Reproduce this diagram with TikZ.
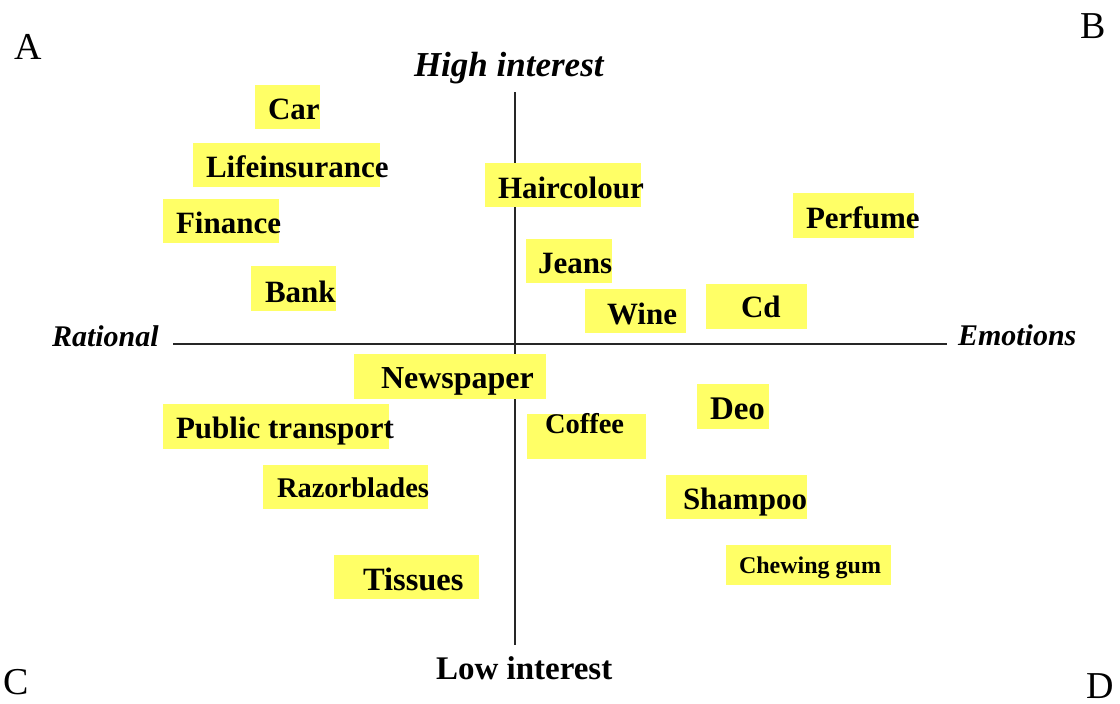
\documentclass[tikz,border=0pt]{standalone}
\usepackage{fontspec}
\setmainfont{Liberation Serif}
\definecolor{boxyellow}{RGB}{255,255,102}
\newcommand\fsz[1]{\fontsize{#1}{#1}\selectfont}
\tikzset{
  ybox/.style n args={2}{fill=boxyellow, draw=none, inner sep=0pt, outer sep=0pt, anchor=north west, minimum width=#1, minimum height=#2},
  lbl/.style={inner sep=0pt, outer sep=0pt, anchor=base west, font=\fsz{31}\bfseries},
  axislbl/.style={inner sep=0pt, outer sep=0pt, anchor=base west, font=\fsz{30}\bfseries\itshape},
  corner/.style={inner sep=0pt, outer sep=0pt, anchor=base west, font=\fsz{38}},
  axisline/.style={draw=black!85, line width=1.3pt}
}
\begin{document}
\begin{tikzpicture}[x=1pt, y=-1pt]
\useasboundingbox (0,0) rectangle (1120,704);
% axes
\coordinate (top) at (515,92);
\coordinate (bot) at (515,645);
\coordinate (left) at (173,344);
\coordinate (right) at (947,344);
\draw[axisline] (top) -- (bot);
\draw[axisline] (left) -- (right);
% yellow boxes
\node[ybox={65pt}{44pt}] (bcar) at (255,85) {};
\node[ybox={187pt}{44pt}] (blife) at (193,143) {};
\node[ybox={116pt}{44pt}] (bfin) at (163,199) {};
\node[ybox={85pt}{45pt}] (bbank) at (251,266) {};
\node[ybox={156pt}{44pt}] (bhair) at (485,163) {};
\node[ybox={121pt}{45pt}] (bperf) at (793,193) {};
\node[ybox={86pt}{44pt}] (bjeans) at (526,239) {};
\node[ybox={101pt}{44pt}] (bwine) at (585,289) {};
\node[ybox={101pt}{45pt}] (bcd) at (706,284) {};
\node[ybox={192pt}{45pt}] (bnews) at (354,354) {};
\node[ybox={119pt}{45pt}] (bcoffee) at (527,414) {};
\node[ybox={226pt}{45pt}] (bpub) at (163,404) {};
\node[ybox={165pt}{44pt}] (brazor) at (263,465) {};
\node[ybox={145pt}{44pt}] (btiss) at (334,555) {};
\node[ybox={72pt}{45pt}] (bdeo) at (697,384) {};
\node[ybox={141pt}{44pt}] (bsham) at (666,475) {};
\node[ybox={165pt}{40pt}] (bchew) at (726,545) {};
% item labels
\node[lbl] (tcar) at (268,119) {Car};
\node[lbl] (tlife) at (206,177) {Lifeinsurance};
\node[lbl] (tfin) at (176,233) {Finance};
\node[lbl] (tbank) at (265,302) {Bank};
\node[lbl] (thair) at (498,198) {Haircolour};
\node[lbl] (tperf) at (806,228) {Perfume};
\node[lbl] (tjeans) at (538,273) {Jeans};
\node[lbl] (twine) at (607,324) {Wine};
\node[lbl] (tcd) at (741,317) {Cd};
\node[lbl, font=\fsz{32}\bfseries] (tnews) at (381,388) {Newspaper};
\node[lbl, font=\fsz{28.5}\bfseries] (tcoffee) at (545,433) {Coffee};
\node[lbl] (tpub) at (176,438) {Public transport};
\node[lbl, font=\fsz{28.5}\bfseries] (trazor) at (277,497) {Razorblades};
\node[lbl, font=\fsz{32.5}\bfseries] (ttiss) at (363,590) {Tissues};
\node[lbl, font=\fsz{33}\bfseries] (tdeo) at (710,419) {Deo};
\node[lbl] (tsham) at (683,509) {Shampoo};
\node[lbl, font=\fsz{24}\bfseries] (tchew) at (739,573) {Chewing gum};
% axis labels
\node[axislbl, font=\fsz{35}\bfseries\itshape] (high) at (414,76) {High interest};
\node[axislbl] (rat) at (52,346) {Rational};
\node[axislbl] (emo) at (958,345) {Emotions};
\node[lbl, font=\fsz{33}\bfseries] (low) at (436,679) {Low interest};
% corner letters
\node[corner] (A) at (14,59) {A};
\node[corner] (B) at (1080,38) {B};
\node[corner] (C) at (4,694) {C};
\node[corner] (D) at (1086,698) {D};
\end{tikzpicture}
\end{document}
